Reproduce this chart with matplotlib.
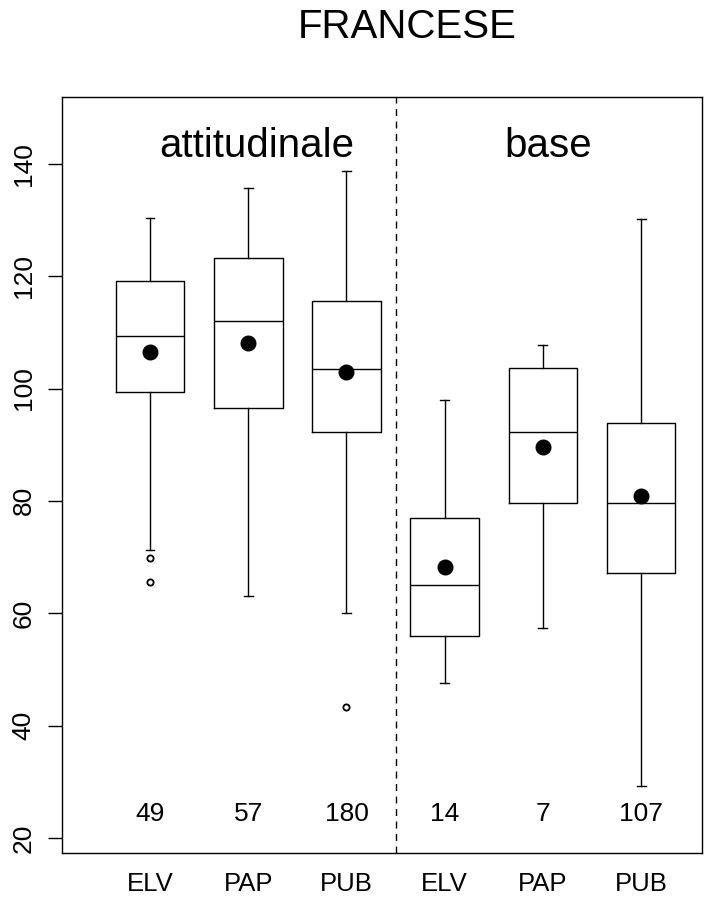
import matplotlib
matplotlib.use("Agg")
import matplotlib.pyplot as plt

plt.rcParams['font.family'] = ['Liberation Sans', 'DejaVu Sans']

# ---- data ----
title = "FRANCESE"
groups = ["attitudinale", "base"]
categories = ["ELV", "PAP", "PUB", "ELV", "PAP", "PUB"]
counts = [49, 57, 180, 14, 7, 107]
whis_lo = [71.3, 63.0, 60.0, 47.5, 57.3, 29.3]
q1 = [99.3, 96.6, 92.3, 55.9, 79.7, 67.1]
medians = [109.3, 112.0, 103.5, 65.1, 92.3, 79.7]
q3 = [119.1, 123.2, 115.5, 77.0, 103.6, 93.8]
whis_hi = [130.3, 135.7, 138.7, 97.9, 107.7, 130.2]
means = [106.5, 108.1, 102.9, 68.3, 89.5, 80.9]
outliers = [[69.9, 65.6], [], [43.3], [], [], []]
yticks = [20, 40, 60, 80, 100, 120, 140]

fig = plt.figure(figsize=(7.17, 8.98), dpi=100)
ax = fig.add_axes([62/717, 45/898, 640/717, 756/898])

positions = list(range(1, len(categories) + 1))
stats = []
for i in range(len(categories)):
    stats.append(dict(med=medians[i], q1=q1[i], q3=q3[i],
                      whislo=whis_lo[i], whishi=whis_hi[i],
                      fliers=outliers[i], label=categories[i]))

ax.bxp(stats, positions=positions, widths=0.70, showfliers=True,
       boxprops=dict(color='black', linewidth=1.0),
       medianprops=dict(color='black', linewidth=1.0),
       whiskerprops=dict(color='black', linewidth=1.0, linestyle='-'),
       capprops=dict(color='black', linewidth=1.0),
       capwidths=0.09,
       flierprops=dict(marker='o', markersize=4.5, markerfacecolor='white',
                       markeredgecolor='black', markeredgewidth=1.3))

ax.plot(positions, means, linestyle='none', marker='o', markersize=10.5,
        color='black')

ax.axvline(3.5, color='black', linewidth=1.0, linestyle=(0, (5, 4)))

for p, c in zip(positions, counts):
    ax.text(p, 24.3, str(c), ha='center', va='center', fontsize=19)

ax.text(2.09, 143.2, groups[0], ha='center', va='center', fontsize=29)
ax.text(5.05, 143.2, groups[1], ha='center', va='center', fontsize=29)

ax.set_xlim(0.104, 6.62)
ax.set_ylim(17.3, 151.9)
ax.set_yticks(yticks)
ax.set_yticklabels([str(t) for t in yticks], rotation=90, va='center',
                   fontsize=19)
ax.tick_params(axis='y', length=10, width=1.0, pad=9, direction='out')
ax.set_xticks(positions)
ax.set_xticklabels(categories, fontsize=18.5)
ax.tick_params(axis='x', length=0, pad=14)
for s in ax.spines.values():
    s.set_linewidth(1.0)

fig.text(407.5/717, 1 - 27.5/898, title, ha='center', va='center',
         fontsize=29)

fig.savefig("out.png", dpi=100)
